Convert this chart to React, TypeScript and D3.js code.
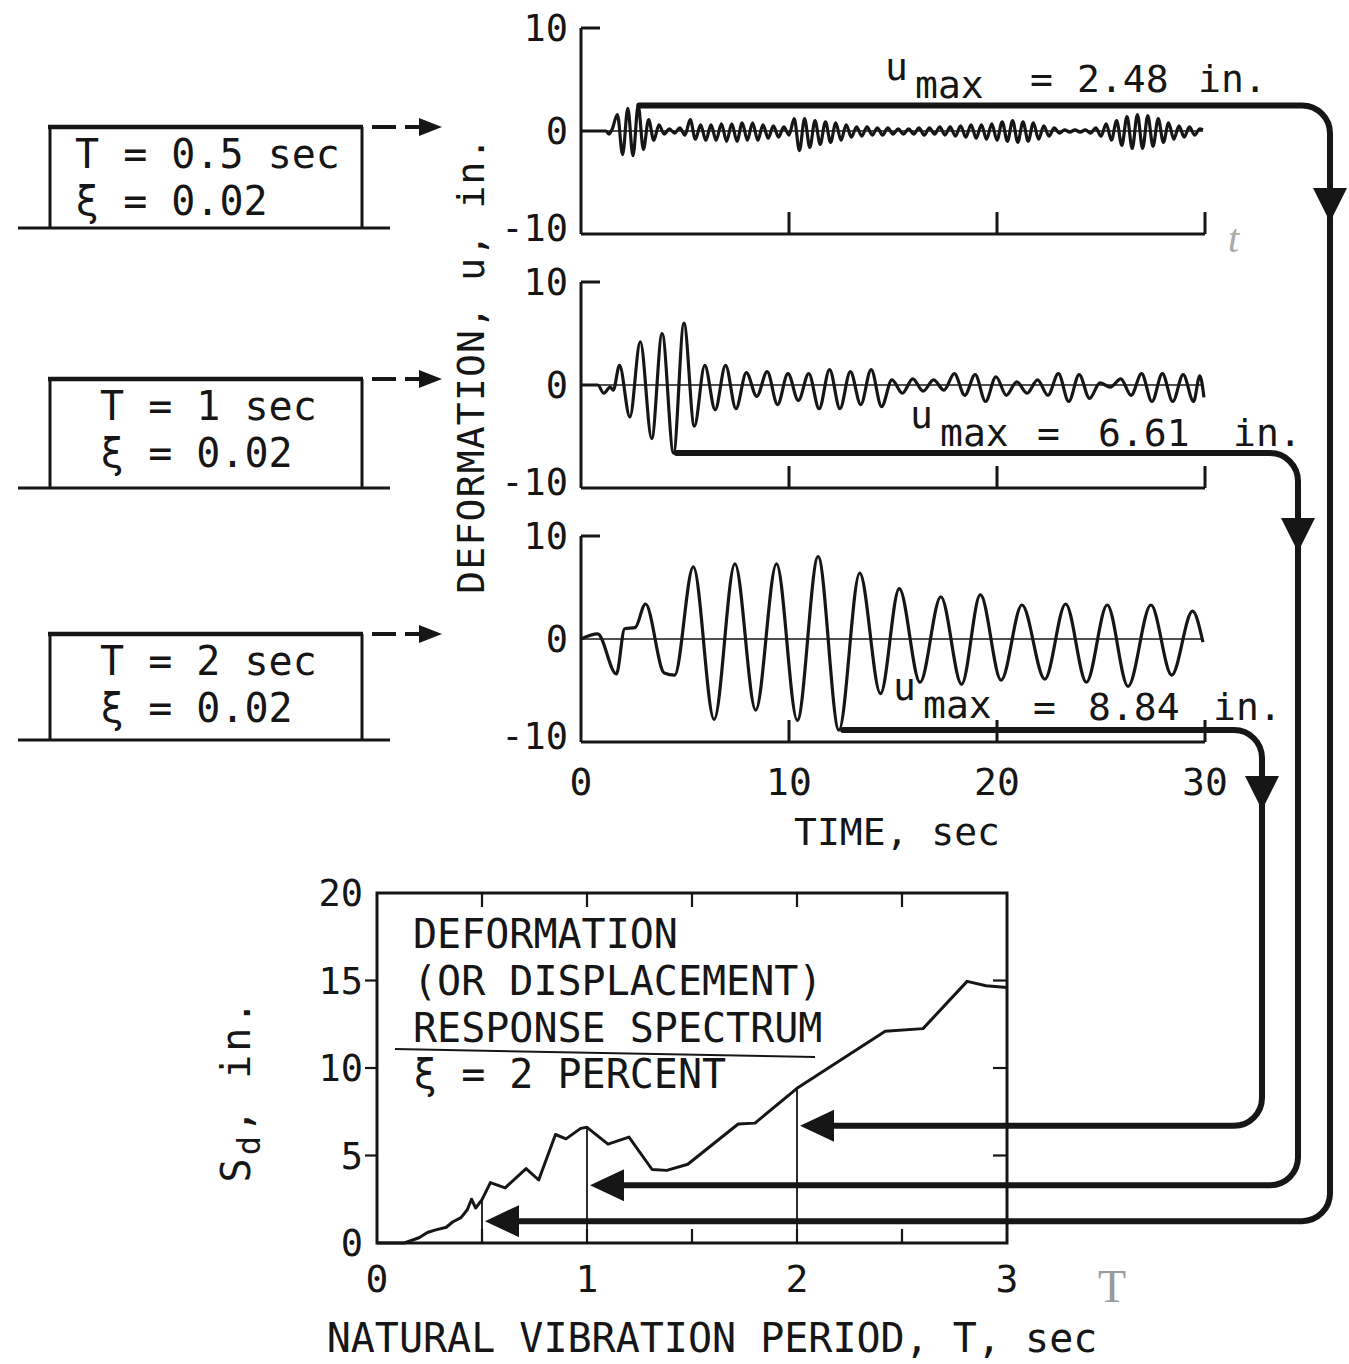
import * as d3 from 'd3'

const FONT = '"DejaVu Sans Mono", "Liberation Mono", monospace'
const INK = '#161616'

// axis ticks
const timeTicks = [0, 10, 20, 30]
const uTicks = [10, 0, -10]
const periodTicks = [0, 1, 2, 3]
const sdTicks = [0, 5, 10, 15, 20]

// the three SDOF systems
const periods = [0.5, 1, 2]
const periodLabels = ['0.5', '1', '2']
const dampingLabel = '0.02'
const umaxValues = [2.48, 6.61, 8.84]
const umaxSigns = [1, -1, -1]
const umaxTimes = [2.8, 4.6, 12.6] // where the u_max leader starts

// deformation histories, extrema: [t (sec), u (in.)]
const resp05: [number, number][] = [
  [0, 0], [1.2, 0], [1.35, -0.3], [1.5, 0.2],
  [1.75, 1.6], [2.0, -2.3], [2.25, 2.2], [2.5, -2.4], [2.75, 2.48], [3.0, -1.8],
  [3.25, 1.1], [3.5, -0.9], [3.75, 0.6], [4.0, -0.3], [4.25, 0.2], [4.5, -0.2],
  [4.75, 0.3], [5.0, -0.4], [5.25, 1.1], [5.5, -0.8], [5.75, 0.6], [6.0, -0.9],
  [6.25, 0.6], [6.5, -0.9], [6.75, 0.7], [7.0, -1.0], [7.25, 0.7], [7.5, -1.0],
  [7.75, 0.8], [8.0, -0.9], [8.25, 0.8], [8.5, -0.9], [8.75, 0.6], [9.0, -0.7],
  [9.25, 0.5], [9.5, -0.6], [9.75, 0.4], [10.0, -0.4], [10.25, 1.2], [10.5, -1.9],
  [10.75, 1.2], [11.0, -1.6], [11.25, 1.0], [11.5, -1.3], [11.75, 0.9], [12.0, -1.1],
  [12.25, 0.8], [12.5, -0.9], [12.75, 0.6], [13.0, -0.6], [13.25, 0.4], [13.5, -0.5],
  [13.75, 0.4], [14.0, -0.4], [14.25, 0.3], [14.5, -0.4], [14.75, 0.3], [15.0, -0.3],
  [15.25, 0.2], [15.5, -0.3], [15.75, 0.2], [16.0, -0.3], [16.25, 0.3], [16.5, -0.4],
  [16.75, 0.3], [17.0, -0.3], [17.25, 0.4], [17.5, -0.4], [17.75, 0.4], [18.0, -0.5],
  [18.25, 0.5], [18.5, -0.6], [18.75, 0.6], [19.0, -0.7], [19.25, 0.6], [19.5, -0.8],
  [19.75, 0.7], [20.0, -0.9], [20.25, 0.9], [20.5, -1.0], [20.75, 1.0], [21.0, -1.1],
  [21.25, 0.9], [21.5, -1.0], [21.75, 0.8], [22.0, -0.8], [22.25, 0.5], [22.5, -0.5],
  [22.75, 0.3], [23.0, -0.2], [23.25, 0.1], [23.5, -0.1], [23.75, 0.1], [24.0, -0.1],
  [24.25, 0.1], [24.5, -0.2], [24.75, 0.3], [25.0, -0.5], [25.25, 0.7], [25.5, -0.9],
  [25.75, 1.0], [26.0, -1.4], [26.25, 1.4], [26.5, -1.7], [26.75, 1.6], [27.0, -1.7],
  [27.25, 1.5], [27.5, -1.5], [27.75, 1.2], [28.0, -1.1], [28.25, 0.8], [28.5, -0.8],
  [28.75, 0.5], [29.0, -0.6], [29.25, 0.4], [29.5, -0.4], [29.75, 0.2], [29.9, 0.1],
]

const resp1: [number, number][] = [
  [0, 0], [0.8, 0], [1.1, -0.8], [1.4, -0.2], [1.55, -0.5], [1.85, 1.9],
  [2.35, -3.1], [2.85, 4.2], [3.4, -5.2], [3.9, 5.0], [4.45, -6.61], [4.95, 6.0],
  [5.45, -4.0], [5.95, 1.9], [6.45, -2.4], [6.95, 1.9], [7.45, -2.3], [7.95, 1.2],
  [8.45, -1.1], [8.95, 1.3], [9.45, -1.9], [9.95, 1.1], [10.45, -1.5], [10.95, 1.1],
  [11.45, -2.3], [11.95, 1.5], [12.45, -2.3], [12.95, 1.3], [13.45, -1.9], [13.95, 1.5],
  [14.45, -2.1], [14.95, 0.5], [15.45, -0.8], [15.95, 0.6], [16.45, -0.6], [16.95, 0.5],
  [17.45, -0.5], [17.95, 1.1], [18.45, -1.0], [18.95, 1.0], [19.45, -1.6], [19.95, 0.8],
  [20.45, -1.0], [20.95, 0.3], [21.45, -0.8], [21.95, 0.5], [22.45, -1.0], [22.95, 1.1],
  [23.45, -1.6], [23.95, 1.0], [24.45, -1.3], [24.95, 0.2], [25.45, -0.2], [25.95, 0.6],
  [26.45, -1.0], [26.95, 1.1], [27.45, -1.6], [27.95, 1.1], [28.45, -1.6], [28.95, 1.0],
  [29.45, -1.6], [29.75, 0.9], [29.95, -1.2],
]

const resp2: [number, number][] = [
  [0, 0], [0.8, 0.5], [1.7, -3.4], [2.1, 1.0], [2.6, 1.1], [3.1, 3.4],
  [4.0, -3.3], [4.5, -3.5], [5.4, 7.0], [6.4, -7.8], [7.4, 7.3], [8.4, -6.9],
  [9.4, 7.3], [10.4, -7.9], [11.4, 8.0], [12.4, -8.84], [13.4, 6.4], [14.4, -5.3],
  [15.3, 4.9], [16.3, -4.2], [17.3, 4.1], [18.3, -4.4], [19.2, 4.3], [20.2, -4.0],
  [21.2, 3.3], [22.3, -3.9], [23.3, 3.4], [24.3, -4.2], [25.3, 3.3], [26.3, -4.6],
  [27.4, 3.3], [28.4, -3.5], [29.4, 2.7], [29.9, -0.3],
]

const responses = [resp05, resp1, resp2]

// deformation response spectrum, xi = 2%: [T (sec), Sd (in.)]
const spectrum: [number, number][] = [
  [0, 0], [0.13, 0], [0.2, 0.3], [0.24, 0.6], [0.28, 0.75], [0.33, 0.9], [0.36, 1.2],
  [0.4, 1.45], [0.43, 1.9], [0.45, 2.5], [0.47, 2.0], [0.5, 2.48], [0.54, 3.45],
  [0.61, 3.15], [0.71, 4.25], [0.77, 3.6], [0.85, 6.2], [0.9, 5.95], [0.97, 6.55],
  [1.0, 6.61], [1.1, 5.65], [1.2, 6.05], [1.31, 4.2], [1.38, 4.15], [1.48, 4.5],
  [1.72, 6.8], [1.8, 6.85], [2.0, 8.84], [2.42, 12.1], [2.6, 12.25], [2.81, 14.95],
  [2.9, 14.7], [3.0, 14.6],
]

// layout
const panelTops = [28, 282, 536]
const panelH = 206
const boxTops = [127, 379, 634]
const boxGround = [228, 488, 740]
const boxTextX = [75, 100, 100]
const routeX = [1330, 1298, 1262]
const downArrowY = [205, 535, 793]
const arrowSd = [1.25, 3.3, 6.7]
const umaxLabel = [
  { ux: 885, uy: 80, eq: 1030, v: 1077, unit: 1198, y: 92 },
  { ux: 910, uy: 428, eq: 1037, v: 1098, unit: 1233, y: 446 },
  { ux: 893, uy: 700, eq: 1033, v: 1088, unit: 1213, y: 720 },
]

export default function App() {
  const x = d3.scaleLinear().domain([0, 30]).range([581, 1205])
  const ys = panelTops.map(top => d3.scaleLinear().domain([-10, 10]).range([top + panelH, top]))
  const sx = d3.scaleLinear().domain([0, 3]).range([377, 1007])
  const sy = d3.scaleLinear().domain([0, 20]).range([1243, 893])

  const trace = (y: d3.ScaleLinear<number, number>) =>
    d3.line<[number, number]>().x(d => x(d[0])).y(d => y(d[1])).curve(d3.curveMonotoneX)
  const specLine = d3.line<[number, number]>().x(d => sx(d[0])).y(d => sy(d[1]))

  return (
    <svg width={1349} height={1364} style={{ position: 'absolute', left: 0, top: 0, background: '#fff' }}
      fontFamily={FONT} fill={INK}>
      <rect width={1349} height={1364} fill="#fff" />

      {/* SDOF systems */}
      {periods.map((_, i) => (
        <g key={'box' + i}>
          <line x1={48} x2={363} y1={boxTops[i]} y2={boxTops[i]} stroke={INK} strokeWidth={4.5} />
          <line x1={50} x2={50} y1={boxTops[i]} y2={boxGround[i]} stroke={INK} strokeWidth={3} />
          <line x1={362} x2={362} y1={boxTops[i]} y2={boxGround[i]} stroke={INK} strokeWidth={3} />
          <line x1={18} x2={390} y1={boxGround[i]} y2={boxGround[i]} stroke={INK} strokeWidth={3} />
          <text x={boxTextX[i]} y={boxTops[i] + 41} fontSize={40}>{`T = ${periodLabels[i]} sec`}</text>
          <text x={boxTextX[i]} y={boxTops[i] + 88} fontSize={40}>{`ξ = ${dampingLabel}`}</text>
          <path d={`M372,${boxTops[i]}H396M405,${boxTops[i]}H421`} stroke={INK} strokeWidth={4} />
          <polygon points={`419,${boxTops[i] - 9} 442,${boxTops[i]} 419,${boxTops[i] + 9}`} />
        </g>
      ))}

      {/* time histories */}
      <text transform="translate(484,365) rotate(-90)" textAnchor="middle" fontSize={38} letterSpacing={1.2}>
        DEFORMATION, u, in.
      </text>
      {responses.map((r, i) => {
        const y = ys[i]
        return (
          <g key={'panel' + i}>
            <line x1={581} x2={581} y1={y(10)} y2={y(-10)} stroke={INK} strokeWidth={3} />
            <line x1={581} x2={600} y1={y(10)} y2={y(10)} stroke={INK} strokeWidth={3} />
            <line x1={x(0)} x2={x(30)} y1={y(-10)} y2={y(-10)} stroke={INK} strokeWidth={3} />
            {timeTicks.slice(1).map(t => (
              <line key={t} x1={x(t)} x2={x(t)} y1={y(-10)} y2={y(-10) - 22} stroke={INK} strokeWidth={3} />
            ))}
            {uTicks.map(v => (
              <text key={v} x={568} y={y(v) - (v === -10 ? 6 : 0)} dy="0.36em" textAnchor="end" fontSize={37}>
                {v}
              </text>
            ))}
            <line x1={x(0)} x2={x(29.9)} y1={y(0)} y2={y(0)} stroke={INK} strokeWidth={1.3} />
            <path d={trace(y)(r) ?? ''} fill="none" stroke={INK} strokeWidth={3.2} strokeLinejoin="round" />
          </g>
        )
      })}
      {timeTicks.map(t => (
        <text key={t} x={x(t)} y={795} textAnchor="middle" fontSize={38}>{t}</text>
      ))}
      <text x={897} y={845} textAnchor="middle" fontSize={38}>TIME, sec</text>

      {/* u_max labels */}
      {umaxLabel.map((p, i) => (
        <g key={'ul' + i} fontSize={38}>
          <text x={p.ux} y={p.uy}>u</text>
          <text x={p.ux + 30} y={p.uy + 18}>max</text>
          <text x={p.eq} y={p.y}>=</text>
          <text x={p.v} y={p.y}>{umaxValues[i].toFixed(2)}</text>
          <text x={p.unit} y={p.y}>in.</text>
        </g>
      ))}

      {/* response spectrum */}
      <rect x={sx(0)} y={sy(20)} width={sx(3) - sx(0)} height={sy(0) - sy(20)} fill="none" stroke={INK} strokeWidth={3} />
      {[0.5, 1, 1.5, 2, 2.5].map(t => (
        <g key={'tt' + t}>
          <line x1={sx(t)} x2={sx(t)} y1={sy(20)} y2={sy(20) + 14} stroke={INK} strokeWidth={2.2} />
          <line x1={sx(t)} x2={sx(t)} y1={sy(0)} y2={sy(0) - 14} stroke={INK} strokeWidth={2.2} />
        </g>
      ))}
      {[5, 10, 15].map(v => (
        <g key={'st' + v}>
          <line x1={sx(0) - 12} x2={sx(0)} y1={sy(v)} y2={sy(v)} stroke={INK} strokeWidth={2.2} />
          <line x1={sx(3) - 14} x2={sx(3)} y1={sy(v)} y2={sy(v)} stroke={INK} strokeWidth={2.2} />
        </g>
      ))}
      {sdTicks.map(v => (
        <text key={'sl' + v} x={363} y={sy(v)} dy="0.36em" textAnchor="end" fontSize={37}>{v}</text>
      ))}
      {periodTicks.map(t => (
        <text key={'pl' + t} x={sx(t)} y={1292} textAnchor="middle" fontSize={38}>{t}</text>
      ))}
      <text transform="translate(250,1090) rotate(-90)" textAnchor="middle" fontSize={40} letterSpacing={3}>
        S<tspan dy={10} fontSize={32}>d</tspan><tspan dy={-10}>, in.</tspan>
      </text>
      <text x={712} y={1352} textAnchor="middle" fontSize={40}>NATURAL VIBRATION PERIOD, T, sec</text>

      <g fontSize={40}>
        <text x={413} y={948}>DEFORMATION</text>
        <text x={413} y={995}>(OR DISPLACEMENT)</text>
        <text x={413} y={1042}>RESPONSE SPECTRUM</text>
        <text x={413} y={1088}>ξ = 2 PERCENT</text>
      </g>
      <line x1={395} x2={815} y1={1049} y2={1057} stroke={INK} strokeWidth={2} />

      {periods.map((T, i) => (
        <line key={'ref' + i} x1={sx(T)} x2={sx(T)} y1={sy(umaxValues[i])} y2={sy(0)} stroke={INK} strokeWidth={1.8} />
      ))}
      <path d={specLine(spectrum) ?? ''} fill="none" stroke={INK} strokeWidth={3} strokeLinejoin="round" />

      {/* leaders from u_max to the spectrum */}
      {periods.map((T, i) => {
        const x0 = x(umaxTimes[i])
        const y0 = ys[i](umaxSigns[i] * umaxValues[i])
        const rx = routeX[i]
        const r = 28
        const yEnd = sy(arrowSd[i])
        const tip = sx(T) + 3
        const ay = downArrowY[i]
        return (
          <g key={'lead' + i}>
            <path
              d={`M${x0},${y0}H${rx - r}A${r},${r} 0 0 1 ${rx},${y0 + r}V${yEnd - r}A${r},${r} 0 0 1 ${rx - r},${yEnd}H${tip + 28}`}
              fill="none" stroke={INK} strokeWidth={6} strokeLinecap="round" />
            <polygon points={`${rx - 17},${ay - 17} ${rx + 17},${ay - 17} ${rx},${ay + 17}`} />
            <polygon points={`${tip},${yEnd} ${tip + 34},${yEnd - 16} ${tip + 34},${yEnd + 16}`} />
          </g>
        )
      })}

      {/* pencil marks on the page */}
      <text x={1098} y={1302} fontSize={46} fill="#9a9a9a" fontFamily="Liberation Serif">T</text>
      <text x={1228} y={252} fontSize={40} fill="#aaaaaa" fontFamily="Liberation Serif" fontStyle="italic">t</text>
    </svg>
  )
}
